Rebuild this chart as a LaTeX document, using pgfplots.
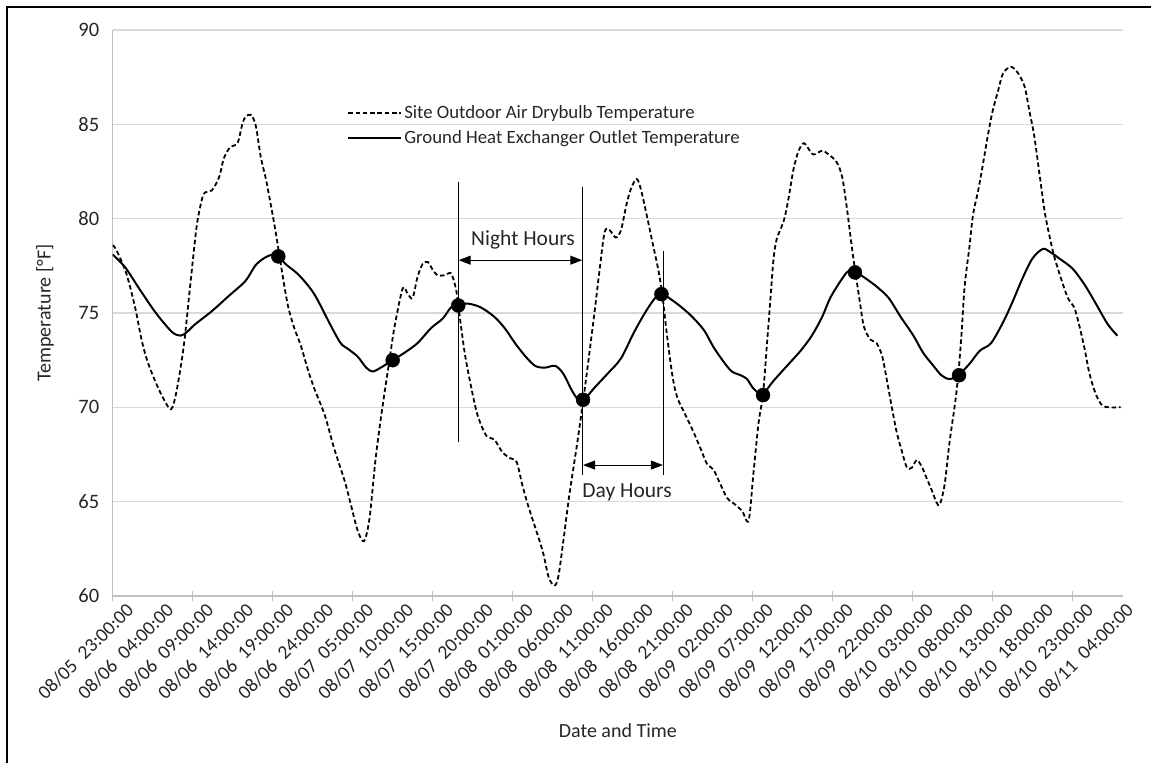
\documentclass[border=0pt]{standalone}
\usepackage{fontspec}
\setmainfont{Carlito}
\usepackage{pgfplots}
\usepackage{pgfplotstable}
\pgfplotsset{compat=1.18}
\usetikzlibrary{arrows.meta}
\definecolor{gridc}{HTML}{D9D9D9}
\definecolor{axc}{HTML}{BFBFBF}

\pgfplotstableread{
h T
0 78.6
0.5 78.3
1.7 77.1
2.8 75.3
3.6 73.6
4.3 72.5
5.3 71.4
6.3 70.5
7.3 69.9
8.0 70.9
8.9 73.3
9.7 76.5
10.5 79.6
11.2 81.1
11.6 81.4
12.4 81.5
13.3 82.2
13.9 83.2
14.7 83.8
15.6 84.0
16.2 85.0
16.6 85.4
17.3 85.5
17.9 84.9
18.5 83.3
19.2 82.0
20.0 80.2
20.6 78.7
21.2 77.1
21.9 75.4
22.7 74.2
23.5 73.3
24.4 72.0
25.2 71.0
26.5 69.6
27.7 67.8
29.0 66.1
29.8 64.8
30.6 63.5
31.4 62.9
32.1 64.1
32.9 67.4
33.75 70.1
34.6 72.5
35.2 74.2
36.25 76.3
36.9 76.0
37.5 75.8
38.1 76.9
38.75 77.6
39.4 77.7
40.0 77.3
40.6 77.0
41.5 77.0
42.3 77.1
42.9 76.3
43.2 75.4
44.0 72.9
44.8 71.1
45.6 69.6
46.7 68.5
47.7 68.3
48.75 67.6
49.7 67.3
50.5 67.1
51.2 65.9
52.0 64.7
53.0 63.4
53.8 62.3
54.5 61.0
55.2 60.55
55.7 61.0
56.3 62.8
57.1 65.4
58.0 67.9
58.8 70.3
59.6 72.9
60.25 75.1
60.9 77.4
61.5 79.3
62.1 79.4
62.9 79.0
63.55 79.4
64.2 80.7
64.8 81.6
65.5 82.1
66.0 81.6
66.65 80.4
67.5 78.7
68.2 77.3
68.7 76.0
69.3 73.8
70.0 71.6
70.6 70.5
71.6 69.6
72.6 68.7
73.5 67.8
74.3 67.0
75.1 66.7
76.0 65.9
76.8 65.2
77.8 64.85
78.7 64.5
79.5 64.0
80.1 66.5
80.75 69.2
81.3 70.7
81.8 73.4
82.2 75.6
82.6 77.8
83.0 78.9
83.9 79.9
84.5 81.1
85.1 82.6
85.75 83.6
86.4 84.0
87.0 83.7
87.6 83.4
88.7 83.6
89.5 83.4
90.5 83.0
91.2 82.2
91.8 80.5
92.4 78.5
92.8 77.3
93.4 75.6
93.9 74.3
94.7 73.6
95.5 73.4
96.2 72.7
96.8 71.4
97.4 70.0
98.0 68.7
98.7 67.6
99.3 66.8
99.9 66.8
100.5 67.2
101.1 66.9
101.7 66.3
102.4 65.6
103.0 64.95
103.4 64.85
104.0 65.9
104.6 68.1
105.3 70.2
105.7 71.7
106.1 73.8
106.5 76.4
107.1 78.5
107.55 80.2
108.2 81.5
108.8 82.9
109.4 84.4
110.0 85.7
110.7 86.8
111.3 87.7
112.3 88.05
113.2 87.7
114.0 87.0
114.6 85.7
115.2 84.4
115.85 82.4
116.5 80.4
117.1 79.1
117.7 78.0
118.5 76.9
119.4 75.8
120.2 75.3
120.8 74.4
121.5 73.1
122.1 71.8
122.9 70.7
123.7 70.1
124.6 70.0
125.6 70.0
126.0 70.0
}\outdoor

\pgfplotstableread{
h T
0 78.1
1.6 77.4
3.3 76.3
5.4 75.0
7.4 74.0
8.5 73.8
9.3 74.0
10.3 74.4
12.4 75.1
14.5 75.9
16.6 76.7
17.8 77.5
18.9 77.9
20.0 78.1
20.8 78.0
21.6 77.6
23.3 77.0
25.2 76.0
27.3 74.3
28.5 73.4
29.4 73.1
30.6 72.7
31.7 72.1
32.5 71.9
33.5 72.1
35.0 72.5
36.5 72.9
38.1 73.4
39.8 74.2
41.25 74.7
42.3 75.3
43.2 75.4
44.4 75.5
46.0 75.3
47.7 74.8
49.0 74.2
50.3 73.4
51.6 72.7
52.8 72.2
54.0 72.1
55.3 72.2
56.3 71.8
57.4 70.9
58.2 70.4
58.9 70.4
60.25 71.05
61.9 71.8
63.55 72.6
65.2 74.0
66.9 75.25
68.4 76.0
70.2 75.6
72.2 74.9
73.9 74.1
75.1 73.2
76.4 72.4
77.4 71.9
78.5 71.7
79.3 71.5
80.1 71.0
81.2 70.7
82.6 71.4
84.3 72.2
86.0 73.0
87.4 73.8
88.7 74.8
89.7 75.8
91.0 76.7
91.9 77.2
92.7 77.2
93.9 76.9
95.5 76.4
97.0 75.8
98.5 74.8
100.1 73.8
101.3 72.9
102.6 72.2
103.6 71.7
104.6 71.5
105.7 71.7
107.1 72.3
108.4 73.0
109.8 73.4
111.3 74.5
112.5 75.6
113.8 76.9
115.0 77.9
116.3 78.4
117.3 78.2
118.3 77.9
120.0 77.35
121.5 76.5
122.9 75.5
124.4 74.4
125.6 73.8
}\ghx

\begin{document}
\begin{tikzpicture}
\begin{axis}[
  at={(0pt,0pt)}, anchor=south west,
  scale only axis, width=1010.3pt, height=566pt,
  xmin=0, xmax=126.3, ymin=60, ymax=90,
  axis lines*=left,
  axis line style={draw=axc, line width=1.5pt, -},
  ytick={60,65,...,90},
  ymajorgrids,
  grid style={draw=gridc, line width=1.3pt},
  ytick style={draw=none},
  xtick={0,5,...,125},
  xticklabels={
    08/05\ \ 23:00:00, 08/06\ \ 04:00:00, 08/06\ \ 09:00:00, 08/06\ \ 14:00:00,
    08/06\ \ 19:00:00, 08/06\ \ 24:00:00, 08/07\ \ 05:00:00, 08/07\ \ 10:00:00,
    08/07\ \ 15:00:00, 08/07\ \ 20:00:00, 08/08\ \ 01:00:00, 08/08\ \ 06:00:00,
    08/08\ \ 11:00:00, 08/08\ \ 16:00:00, 08/08\ \ 21:00:00, 08/09\ \ 02:00:00,
    08/09\ \ 07:00:00, 08/09\ \ 12:00:00, 08/09\ \ 17:00:00, 08/09\ \ 22:00:00,
    08/10\ \ 03:00:00, 08/10\ \ 08:00:00, 08/10\ \ 13:00:00, 08/10\ \ 18:00:00,
    08/10\ \ 23:00:00, 08/11\ \ 04:00:00},
  xtick style={draw=none},
  extra x ticks={0,10,...,120},
  extra x tick labels={},
  extra x tick style={xtick style={draw=axc, line width=1.5pt}, major tick length=10pt, tick align=center, grid=none},
  xticklabel style={font=\fontsize{19.5}{22}\selectfont, text=black!85, rotate=45, anchor=east, xshift=8pt, yshift=-20pt},
  yticklabel style={font=\fontsize{20.5}{24}\selectfont, text=black!85, xshift=-10pt},
  /pgf/number format/assume math mode=true,
  xlabel={Date and Time},
  ylabel={Temperature [°F]},
  label style={font=\fontsize{20}{24}\selectfont, text=black!85},
  xlabel style={at={(axis description cs:0.5,-0.238)}, anchor=center},
  ylabel style={at={(axis description cs:-0.067,0.5)}, anchor=center},
  legend style={draw=none, fill=none, at={(axis cs:29.3,84.95)}, anchor=west,
    font=\fontsize{18.8}{22}\selectfont, row sep=6pt, inner sep=0pt,
    text=black!85},
  legend cell align=left,
  legend image code/.code={\draw[#1] (0pt,0pt) -- (53pt,0pt);},
]
\addplot[black, line width=1.8pt, dash pattern=on 4.5pt off 2.8pt, smooth, tension=0.5] table[x=h, y=T] {\outdoor};
\addlegendentry{Site Outdoor Air Drybulb Temperature}
\addplot[black, line width=2pt, smooth, tension=0.5] table[x=h, y=T] {\ghx};
\addlegendentry{Ground Heat Exchanger Outlet Temperature}
\addplot[only marks, mark=*, mark size=7pt, black, forget plot] coordinates {
  (20.7,78.0) (35.0,72.5) (43.2,75.4) (58.8,70.4) (68.6,76.0) (81.3,70.65) (92.8,77.15) (105.8,71.7)};

\draw[black, line width=1pt] (axis cs:43.2,81.95) -- (axis cs:43.2,68.15);
\draw[black, line width=1pt] (axis cs:58.75,81.7) -- (axis cs:58.75,66.4);
\draw[black, line width=1pt] (axis cs:68.83,78.3) -- (axis cs:68.83,66.4);
\draw[black, line width=1pt, {Triangle[length=12pt,width=9pt]}-{Triangle[length=12pt,width=9pt]}] (axis cs:43.25,77.8) -- (axis cs:58.7,77.8);
\draw[black, line width=1pt, {Triangle[length=12pt,width=9pt]}-{Triangle[length=12pt,width=9pt]}] (axis cs:58.8,66.94) -- (axis cs:68.78,66.94);
\node[font=\fontsize{21.5}{25}\selectfont, text=black!85] at (axis cs:51.3,78.9) {Night Hours};
\node[font=\fontsize{21.5}{25}\selectfont, text=black!85] at (axis cs:64.3,65.5) {Day Hours};
\end{axis}
\pgfresetboundingbox
\useasboundingbox (-112.7pt,-167pt) rectangle (1038.3pt,596pt);
\draw[black, line width=2.2pt] (-105.9pt,-167pt) -- (-105.9pt,589.3pt) -- (1038.3pt,589.3pt);
\end{tikzpicture}
\end{document}
